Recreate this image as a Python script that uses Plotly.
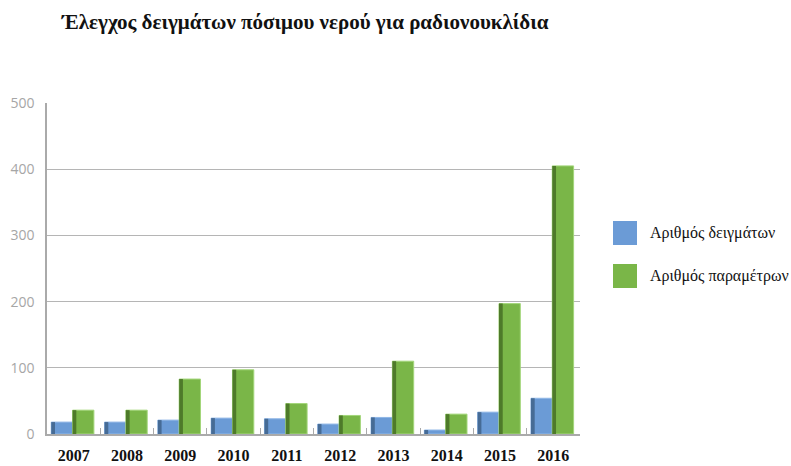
import plotly.graph_objects as go

years = ["2007", "2008", "2009", "2010", "2011", "2012", "2013", "2014", "2015", "2016"]
samples = [18, 18, 21, 24, 23, 15, 25, 6, 33, 54]
parameters = [36, 36, 83, 97, 46, 28, 110, 30, 197, 405]

series_names = ["Αριθμός δειγμάτων", "Αριθμός παραμέτρων"]
face_colors = ["#6b9bd6", "#7ab648"]
side_colors = ["#466b95", "#4e7a2a"]
edge_colors = ["#8fb6e6", "#a3d67a"]

bar_w = 0.40
offsets = [-0.42, -0.02]
side_w = 0.07

fig = go.Figure()
for vals, name, face, side, edge, off in zip(
    [samples, parameters], series_names, face_colors, side_colors, edge_colors, offsets
):
    # bar face
    fig.add_trace(go.Bar(
        x=years, y=vals, name=name, width=bar_w, offset=off,
        marker=dict(color=face, line=dict(color=edge, width=1)),
        showlegend=False, hoverinfo="x+y+name",
    ))
    # darker left side for a bevelled look
    fig.add_trace(go.Bar(
        x=years, y=vals, width=side_w, offset=off,
        marker=dict(color=side, line=dict(width=0)),
        showlegend=False, hoverinfo="skip",
    ))

fig.update_layout(
    width=791, height=466,
    margin=dict(l=47, r=211, t=103, b=32),
    paper_bgcolor="white", plot_bgcolor="white",
    barmode="overlay",
    title=dict(
        text="Έλεγχος δειγμάτων πόσιμου νερού για ραδιονουκλίδια",
        font=dict(family="Liberation Serif", size=21, color="#111111", weight="bold"),
        x=62 / 791, xanchor="left", y=1 - 22 / 466, yanchor="middle",
    ),
    xaxis=dict(
        type="category", tickson="boundaries", ticks="inside", ticklen=6,
        tickcolor="#aaaaaa", showline=True, linecolor="#aaaaaa", linewidth=1.5,
        showgrid=False, ticklabelstandoff=6, automargin=False,
        tickfont=dict(family="Liberation Serif", size=16, color="#111111", weight="bold"),
        range=[-0.5, 9.5],
    ),
    yaxis=dict(
        range=[0, 500], tickvals=[0, 100, 200, 300, 400, 500],
        showgrid=True, gridcolor="#b5b5b5", gridwidth=1,
        showline=True, linecolor="#aaaaaa", linewidth=1.5,
        zeroline=False, ticks="", ticklabelstandoff=8, automargin=False,
        tickfont=dict(family="Open Sans", size=14, color="#a6a6a6"),
    ),
)

# legend drawn as swatches and labels to the right of the plot
legend_y = [233, 276]
for name, face, ly in zip(series_names, face_colors, legend_y):
    fig.add_shape(
        type="rect", xref="paper", yref="paper",
        x0=(613 - 47) / 533, x1=(637 - 47) / 533,
        y0=(434 - ly - 12) / 331, y1=(434 - ly + 12) / 331,
        fillcolor=face, line=dict(width=0),
    )
    fig.add_annotation(
        xref="paper", yref="paper", x=(648 - 47) / 533, y=(434 - ly) / 331,
        text=name, showarrow=False, xanchor="left", yanchor="middle",
        font=dict(family="Liberation Serif", size=16, color="#111111"),
    )

fig.write_html("out.html")
